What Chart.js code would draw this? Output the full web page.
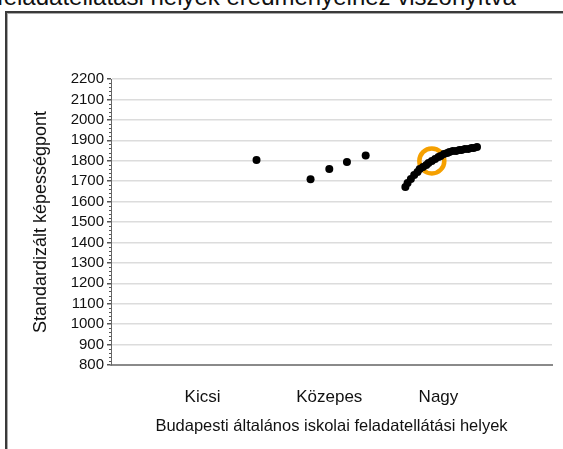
<!DOCTYPE html>
<html>
<head>
<meta charset="utf-8">
<script src="https://cdn.jsdelivr.net/npm/chart.js@4/dist/chart.umd.min.js"></script>
<style>
  html, body { margin: 0; padding: 0; background: #fff; overflow: hidden; }
  #wrap { position: relative; width: 563px; height: 449px; }
  #frame { position: absolute; left: 5px; top: 11px; width: 600px; height: 500px;
           border: 2px solid #3a3a3a; box-shadow: inset 1px 1px 0 #aaa; }
  #title { position: absolute; left: -3px; top: -15px; white-space: nowrap;
           font: 24px "Liberation Sans", Arial, sans-serif; line-height: 24px; color: #111; }
  canvas { position: absolute; left: 0; top: 0; }
</style>
</head>
<body>
<div id="wrap">
  <div id="frame"></div>
  <div id="title">feladatellátási helyek eredményeihez viszonyítva</div>
  <canvas id="myChart" width="563" height="449"></canvas>
</div>
<script>
// kategóriák és helyük az x tengelyen
const categories = ["Kicsi", "Közepes", "Nagy"];
const categoryPos = [0.83, 1.98, 2.97];

// pontok (x: hely a tengelyen, y: standardizált képességpont)
const kicsiX = [1.32];
const kicsiY = [1803];
const kozepesX = [1.81, 1.98, 2.14, 2.31];
const kozepesY = [1709, 1759, 1794, 1826];
const nagyX = [2.67, 2.69, 2.72, 2.75, 2.78, 2.80, 2.83, 2.86, 2.88, 2.91, 2.94, 2.97, 2.99,
               3.02, 3.05, 3.07, 3.10, 3.13, 3.16, 3.18, 3.21, 3.24, 3.27, 3.29, 3.32];
const nagyY = [1671, 1691, 1710, 1730, 1745, 1759, 1769, 1779, 1789, 1799, 1808, 1818, 1823,
               1833, 1838, 1843, 1847, 1847, 1852, 1852, 1857, 1857, 1862, 1862, 1867];
const kiemeltX = [2.91];
const kiemeltY = [1799];

const yMin = 800, yMax = 2200, yStep = 100, yMinorStep = 20;

function pontok(xs, ys) {
  return xs.map((x, i) => ({ x: x, y: ys[i] }));
}

const minorTicks = {
  id: "minorTicks",
  afterDraw(chart) {
    const y = chart.scales.y;
    const ctx = chart.ctx;
    const left = chart.chartArea.left;
    ctx.save();
    ctx.strokeStyle = "#555";
    ctx.lineWidth = 1;
    for (let v = yMin; v <= yMax; v += yMinorStep) {
      if (v % yStep === 0) continue;
      const py = Math.round(y.getPixelForValue(v)) + 0.5;
      ctx.beginPath();
      ctx.moveTo(left - 2, py);
      ctx.lineTo(left, py);
      ctx.stroke();
    }
    ctx.restore();
  }
};

(function () {
  const ctx = document.getElementById("myChart");
  const font = "'Liberation Sans', Arial, sans-serif";

  new Chart(ctx, {
    type: "scatter",
    data: {
      datasets: [
        { data: pontok(kicsiX, kicsiY), pointRadius: 4, pointBackgroundColor: "#000", pointBorderWidth: 0 },
        { data: pontok(kozepesX, kozepesY), pointRadius: 4, pointBackgroundColor: "#000", pointBorderWidth: 0 },
        { data: pontok(nagyX, nagyY), pointRadius: 4, pointBackgroundColor: "#000", pointBorderWidth: 0 },
        { data: pontok(kiemeltX, kiemeltY), pointRadius: 2.5, pointBackgroundColor: "#f5a000", pointBorderWidth: 0 },
        { data: pontok(kiemeltX, kiemeltY), pointRadius: 12.5, pointBackgroundColor: "rgba(0,0,0,0)",
          pointBorderColor: "#f5a000", pointBorderWidth: 4.5 },
      ],
    },
    options: {
      responsive: false,
      animation: false,
      layout: { autoPadding: false, padding: { left: 26, right: 11, top: 79, bottom: 9 } },
      plugins: { legend: { display: false }, tooltip: { enabled: false } },
      scales: {
        x: {
          type: "linear",
          min: 0,
          max: 4,
          afterBuildTicks(scale) {
            scale.ticks = categoryPos.map((v) => ({ value: v }));
          },
          afterFit(scale) { scale.height = 75; },
          grid: { color: "rgba(0,0,0,0)", drawTicks: false },
          border: { display: true, color: "#8a8a8a", width: 2 },
          ticks: {
            padding: 22,
            color: "#111",
            font: { family: font, size: 17 },
            autoSkip: false,
            maxRotation: 0,
            callback: (value) => categories[categoryPos.indexOf(value)],
          },
          title: {
            display: true,
            text: "Budapesti általános iskolai feladatellátási helyek",
            color: "#111",
            font: { family: font, size: 16.5 },
          },
        },
        y: {
          min: yMin,
          max: yMax,
          afterFit(scale) { scale.width = 85; },
          grid: { color: "#dcdcdc", lineWidth: 1.5, tickColor: "#555", tickLength: 4 },
          border: { display: true, color: "#666", width: 1 },
          ticks: {
            stepSize: yStep,
            autoSkip: false,
            padding: 3,
            color: "#111",
            font: { family: font, size: 15 },
            callback: (value) => String(value),
          },
          title: {
            display: true,
            text: "Standardizált képességpont",
            color: "#111",
            font: { family: font, size: 18 },
          },
        },
      },
    },
    plugins: [minorTicks],
  });
})();
</script>
</body>
</html>
